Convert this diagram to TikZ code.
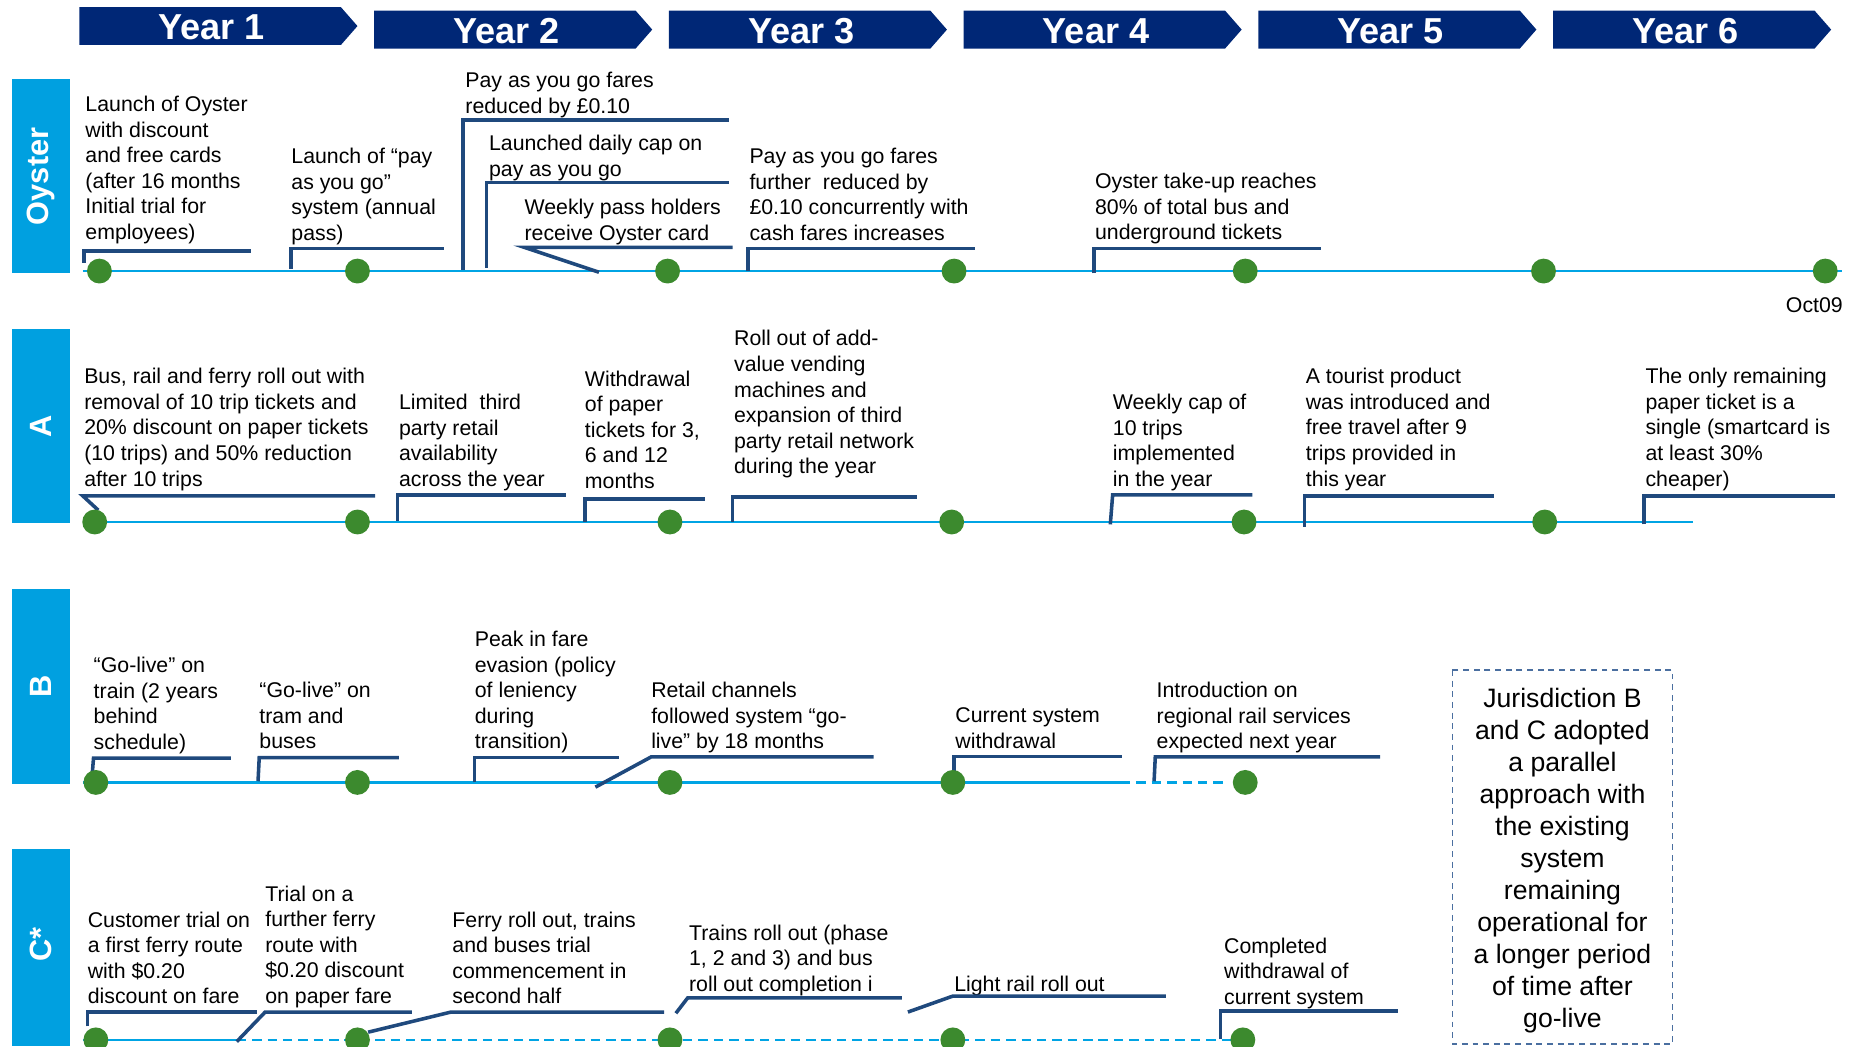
\documentclass[tikz,border=0pt]{standalone}
\usepackage{fontspec}
\setmainfont{Liberation Sans}
\usetikzlibrary{positioning}
\definecolor{yearblue}{RGB}{0,39,118}
\definecolor{barcyan}{RGB}{0,160,224}
\definecolor{linecyan}{RGB}{0,164,228}
\definecolor{dotgreen}{RGB}{60,138,46}
\definecolor{brkblue}{RGB}{31,73,125}
\definecolor{boxblue}{RGB}{74,111,160}
\newcommand{\evtext}{\fontsize{18}{21.6}\selectfont}
\newcommand{\yeartext}{\fontsize{30.5}{36}\selectfont\bfseries}
\newcommand{\sidetext}{\fontsize{26}{31}\selectfont\bfseries}
\newcommand{\boxtext}{\fontsize{22.5}{27}\selectfont}
\tikzset{
  ev/.style={anchor=north west, inner sep=0pt, align=left, font=\evtext},
  brk/.style={draw=brkblue, line width=3pt},
  evdot/.style={circle, fill=dotgreen, minimum size=21pt, inner sep=0pt},
  tline/.style={draw=linecyan, line width=2.2pt},
  tdash/.style={tline, dash pattern=on 8pt off 5pt},
  sidelbl/.style={rotate=90, text=white, font=\sidetext, inner sep=0pt},
  jurline/.style={draw=boxblue, line width=1.5pt, dash pattern=on 5pt off 4pt},
  jurtext/.style={align=center, font=\boxtext, inner sep=0pt}
}

\begin{document}
\begin{tikzpicture}[x=1pt, y=-1pt]
        \useasboundingbox (0,0) rectangle (1568,884);

        \foreach \i/\yt in {1/6,2/9,3/9,4/9,5/9,6/9}{
            \pgfmathsetmacro{\xa}{67+(\i-1)*249}
            \fill[yearblue] (\xa,\yt) -- (\xa+221,\yt) -- (\xa+235,\yt+16) -- (\xa+221,\yt+32) -- (\xa,\yt+32) -- cycle;
            \node[text=white, font=\yeartext, inner sep=0pt] (yr\i) at (\xa+112,\yt+17) {Year \i};
        }

        \fill[barcyan] (10,67) rectangle (59,231);
        \fill[barcyan] (10,278) rectangle (59,442);
        \fill[barcyan] (10,498) rectangle (59,662);
        \fill[barcyan] (10,717) rectangle (59,884);
        \node[sidelbl] (sO) at (34.5,149) {Oyster};
        \node[sidelbl] (sA) at (34.5,360) {A};
        \node[sidelbl] (sB) at (34.5,580) {B};
        \node[sidelbl] (sC) at (34.5,798) {C*};

        \draw[tline] (70,229) -- (1556,229);
        \draw[tline] (70,441) -- (1430,441);
        \draw[tline] (70,661) -- (947,661);
        \draw[tdash] (947,661) -- (1033,661);
        \draw[tline] (70,878.5) -- (200,878.5);
        \draw[tdash] (200,878.5) -- (1040,878.5);

        \node[ev] (o1) at (72,81) {Launch of Oyster\\with discount\\and free cards\\(after 16 months\\Initial trial for\\employees)};
        \node[ev] (o2) at (246,125) {Launch of “pay\\as you go”\\system (annual\\pass)};
        \node[ev] (o3) at (393,61) {Pay as you go fares\\reduced by £0.10};
        \node[ev] (o4) at (413,114) {Launched daily cap on\\pay as you go};
        \node[ev] (o5) at (443,168) {Weekly pass holders\\receive Oyster card};
        \node[ev] (o6) at (633,125) {Pay as you go fares\\further\ \ reduced by\\£0.10 concurrently with\\cash fares increases};
        \node[ev] (o7) at (925,146) {Oyster take-up reaches\\80\% of total bus and\\underground tickets};
        \node[font=\evtext, anchor=base east, inner sep=0pt] (oct) at (1557,264) {Oct09};

        \draw[brk] (71,222) -- (71,212) -- (212,212);
        \draw[brk] (246,227) -- (246,210) -- (375,210);
        \draw[brk] (391,228) -- (391,101.5) -- (616,101.5);
        \draw[brk] (411,226) -- (411,154) -- (616,154);
        \draw[brk] (506,230) -- (443,209) -- (619,209);
        \draw[brk] (632,229) -- (632,210) -- (824,210);
        \draw[brk] (924,231) -- (924,210) -- (1116,210);

        \node[ev] (a1) at (71,311) {Bus, rail and ferry roll out with\\removal of 10 trip tickets and\\20\% discount on paper tickets\\(10 trips) and 50\% reduction\\after 10 trips};
        \node[ev] (a2) at (337,333) {Limited\ \ third\\party retail\\availability\\across the year};
        \node[ev] (a3) at (494,313) {Withdrawal\\of paper\\tickets for 3,\\6 and 12\\months};
        \node[ev] (a4) at (620,279) {Roll out of add-\\value vending\\machines and\\expansion of third\\party retail network\\during the year};
        \node[ev] (a5) at (940,333) {Weekly cap of\\10 trips\\implemented\\in the year};
        \node[ev] (a6) at (1103,311) {A tourist product\\was introduced and\\free travel after 9\\trips provided in\\this year};
        \node[ev] (a7) at (1390,311) {The only remaining\\paper ticket is a\\single (smartcard is\\at least 30\%\\cheaper)};

        \draw[brk] (83,431) -- (70,419) -- (317,419);
        \draw[brk] (336,440) -- (336,418) -- (478,418);
        \draw[brk] (494,441) -- (494,421.5) -- (596,421.5);
        \draw[brk] (619,441) -- (619,420) -- (775,420);
        \draw[brk] (938,443) -- (940,418) -- (1058,418);
        \draw[brk] (1102,445) -- (1102,419) -- (1262,419);
        \draw[brk] (1389,443) -- (1389,419) -- (1550,419);

        \node[ev] (b1) at (79,555) {“Go-live” on\\train (2 years\\behind\\schedule)};
        \node[ev] (b2) at (219,576) {“Go-live” on\\tram and\\buses};
        \node[ev] (b3) at (401,533) {Peak in fare\\evasion (policy\\of leniency\\during\\transition)};
        \node[ev] (b4) at (550,576) {Retail channels\\followed system “go-\\live” by 18 months};
        \node[ev] (b5) at (807,598) {Current system\\withdrawal};
        \node[ev] (b6) at (977,576) {Introduction on\\regional rail services\\expected next year};

        \draw[brk] (78,653) -- (79,640.5) -- (195,640.5);
        \draw[brk] (218,660) -- (219,640) -- (337,640);
        \draw[brk] (401,661) -- (401,640) -- (523,640);
        \draw[brk] (503,665) -- (550,639.5) -- (738,639.5);
        \draw[brk] (806,655) -- (806,639) -- (948,639);
        \draw[brk] (975,660) -- (976,639.5) -- (1166,639.5);

        \node[ev] (c1) at (74,770) {Customer trial on\\a first ferry route\\with \$0.20\\discount on fare};
        \node[ev] (c2) at (224,748) {Trial on a\\further ferry\\route with\\\$0.20 discount\\on paper fare};
        \node[ev] (c3) at (382,770) {Ferry roll out, trains\\and buses trial\\commencement in\\second half};
        \node[ev] (c4) at (582,781) {Trains roll out (phase\\1, 2 and 3) and bus\\roll out completion i};
        \node[ev] (c5) at (806,824) {Light rail roll out};
        \node[ev] (c6) at (1034,792) {Completed\\withdrawal of\\current system};

        \draw[brk] (74,867) -- (74,855) -- (217,855);
        \draw[brk] (200,880) -- (224,855) -- (348,855);
        \draw[brk] (311,872) -- (381,855) -- (561,855);
        \draw[brk] (571,856) -- (581,843) -- (762,843);
        \draw[brk] (767,855) -- (805,841.5) -- (985,841.5);
        \draw[brk] (1031,878) -- (1031,854) -- (1181,854);

        \foreach \x [count=\k] in {84,302,564,806,1052,1304,1542}
            \node[evdot] (od\k) at (\x,229) {};
        \foreach \x [count=\k] in {80,302,566,804,1051,1305}
            \node[evdot] (ad\k) at (\x,441) {};
        \foreach \x [count=\k] in {81,302,566,805,1052}
            \node[evdot] (bd\k) at (\x,661) {};
        \foreach \x [count=\k] in {81,302,566,805,1050}
            \node[evdot] (cd\k) at (\x,878.5) {};

        \draw[jurline] (1227,566) rectangle (1413,882);
        \node[jurtext] (jur) at (1320,727) {Jurisdiction B\\and C adopted\\a parallel\\approach with\\the existing\\system\\remaining\\operational for\\a longer period\\of time after\\go-live};
    \end{tikzpicture}
\end{document}
